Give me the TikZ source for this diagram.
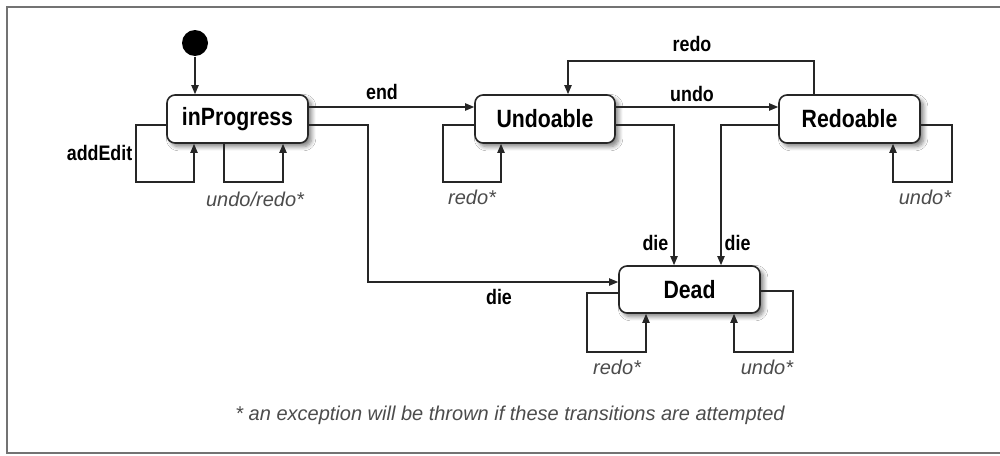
\documentclass[tikz,border=0pt]{standalone}
\usepackage{fontspec}
\setmainfont{Liberation Sans}
\newfontfamily\condfont[FakeStretch=0.85]{Liberation Sans}
\usetikzlibrary{arrows.meta,shadows.blur}
\begin{document}
\begin{tikzpicture}[x=0.5pt,y=-0.5pt,
  line width=0.7pt,
  state/.style={draw=black!85, line width=0.8pt, fill=white, rounded corners=4pt,
    minimum width=70.5pt, minimum height=24pt, inner sep=0pt,
    font=\condfont\fontsize{12.5}{14}\selectfont\bfseries,
    blur shadow={shadow xshift=1.8pt, shadow yshift=-1.8pt, shadow blur steps=6, shadow opacity=50}},
  arr/.style={draw=black!85, -{Triangle[length=4.5pt,width=3.6pt]}},
  lbl/.style={font=\condfont\fontsize{10.5}{12}\selectfont\bfseries, inner sep=0pt},
  ilbl/.style={font=\fontsize{10}{12}\selectfont\itshape, text=black!70, inner sep=0pt}]
\clip (0,0) rectangle (1000,455);
\useasboundingbox (0,0) rectangle (1000,455);
\fill[white] (0,0) rectangle (1000,455);
\draw[black!55, line width=1.1pt] (7,7) rectangle (1020,453);

% states
\node[circle, fill=black, minimum size=13pt, inner sep=0pt] (start) at (195,43) {};
\node[state] (ip) at (237.5,119) {inProgress};
\node[state, minimum width=70pt] (ud) at (545,119) {Undoable};
\node[state] (rd) at (849.5,119) {Redoable};
\node[state, minimum height=23.5pt] (dd) at (689.5,289.5) {Dead};

% initial
\draw[arr] (start.south) -- (ip.north -| start);

% inProgress loops
\draw[arr] (ip.west |- 0,125) -| (136,182) -| (ip.south -| 194,0);
\node[lbl, anchor=east] (laddedit) at (133,153) {addEdit};
\draw[arr] (ip.south -| 224,0) |- (283,182) -- (ip.south -| 283,0);
\node[ilbl] (lur) at (255,199) {undo/redo*};

% end
\draw[arr] (ip.east |- 0,107) -- (ud.west |- 0,107);
\node[lbl] (lend) at (382,92) {end};

% die from inProgress
\draw[arr] (ip.east |- 0,125) -| (368,282) -- (dd.west |- 0,282);
\node[lbl] (ldie1) at (499,297) {die};

% undo / redo
\draw[arr] (ud.east |- 0,107) -- (rd.west |- 0,107);
\node[lbl] (lundo) at (692,94) {undo};
\draw[arr] (rd.north -| 814,0) |- (568,61) -- (ud.north -| 568,0);
\node[lbl] (lredo) at (692,44) {redo};

% Undoable loop
\draw[arr] (ud.west |- 0,125) -| (443,182) -| (ud.south -| 501,0);
\node[ilbl] (lredo2) at (472,197) {redo*};

% Redoable loop
\draw[arr] (rd.east |- 0,125) -| (952,182) -| (rd.south -| 893,0);
\node[ilbl] (lundo2) at (925,197) {undo*};

% die from Undoable and Redoable
\draw[arr] (ud.east |- 0,125) -| (dd.north -| 674,0);
\node[lbl, anchor=east] (ldie2) at (669,243) {die};
\draw[arr] (rd.west |- 0,125) -| (dd.north -| 721,0);
\node[lbl, anchor=west] (ldie3) at (724,243) {die};

% Dead loops
\draw[arr] (dd.west |- 0,293) -| (587,352) -| (dd.south -| 646,0);
\node[ilbl] (lredo3) at (617,367) {redo*};
\draw[arr] (dd.east |- 0,291) -| (793,352) -| (dd.south -| 734,0);
\node[ilbl] (lundo3) at (767,367) {undo*};

% footnote
\node[ilbl] (foot) at (510,415) {* an exception will be thrown if these transitions are attempted};
\end{tikzpicture}
\end{document}
